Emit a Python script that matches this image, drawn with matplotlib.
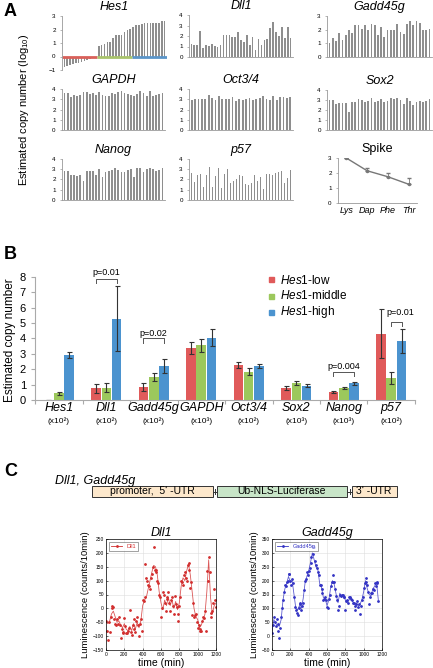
import matplotlib.pyplot as plt
from matplotlib.patches import Rectangle
import numpy as np

plt.rcParams['font.family'] = ['Liberation Sans', 'DejaVu Sans']
plt.rcParams['mathtext.fontset'] = 'custom'
plt.rcParams['mathtext.rm'] = 'Liberation Sans'
plt.rcParams['mathtext.it'] = 'Liberation Sans:italic'

# ---------------- data ----------------
# panel A: log10 copy number per cell
hes1 = [-0.8, -0.7, -0.62, -0.55, -0.5, -0.45, -0.4, -0.35, -0.28, -0.18, -0.1, -0.05,
        0.75, 0.85, 0.95, 1.1, 1.1, 1.35, 1.6, 1.6, 1.6, 1.85, 1.95, 2.05,
        2.2, 2.3, 2.35, 2.4, 2.45, 2.45, 2.45, 2.45, 2.5, 2.5, 2.6, 2.65]
dll1 = [1.25, 1.1, 1.1, 2.45, 0.9, 1.1, 1.05, 1.2, 1.05, 1.0, 1.1, 2.1, 2.1, 2.1, 1.9,
        1.95, 2.4, 1.6, 1.45, 2.1, 1.1, 1.9, 0.65, 1.7, 1.1, 1.6, 1.7, 2.75, 3.3, 2.4,
        2.0, 2.9, 1.8, 2.85, 1.8]
gadd45g = [1.02, 1.4, 1.17, 1.78, 1.27, 1.58, 2.0, 1.78, 2.37, 2.37, 2.07, 2.37, 2.0,
           2.44, 2.37, 1.58, 2.2, 1.5, 2.0, 2.0, 2.0, 2.4, 1.83, 1.7, 2.4, 2.63, 2.37,
           2.63, 2.5, 1.95, 2.0, 2.07]
gapdh = [3.6, 3.6, 3.2, 3.45, 3.3, 3.4, 3.75, 3.7, 3.5, 3.6, 3.45, 3.7, 3.4, 3.3, 3.35,
         3.6, 3.5, 3.75, 3.8, 3.6, 3.5, 3.45, 3.3, 3.5, 3.85, 3.6, 3.3, 3.8, 3.3, 3.45,
         3.55, 3.6]
oct34 = [2.95, 3.0, 3.0, 3.0, 3.05, 3.4, 3.1, 2.95, 3.35, 3.05, 3.0, 3.0, 3.2, 2.8, 3.0,
         2.95, 3.0, 3.15, 2.95, 3.0, 3.1, 3.35, 3.0, 2.9, 3.3, 2.95, 3.25, 3.2, 3.1, 3.2]
sox2 = [3.05, 3.05, 2.6, 2.7, 2.75, 2.75, 1.8, 2.85, 2.8, 3.1, 3.0, 2.85, 2.95, 3.25,
        2.8, 2.9, 3.1, 2.85, 2.95, 3.2, 3.1, 3.2, 3.05, 2.6, 3.2, 2.9, 2.55, 2.85, 2.9,
        2.85, 2.9, 3.1]
nanog = [2.85, 2.85, 2.43, 2.43, 2.3, 2.43, 1.9, 2.8, 2.8, 2.8, 2.46, 3.02, 2.2, 2.75,
         2.8, 2.95, 3.08, 2.95, 2.75, 2.75, 2.9, 3.02, 2.2, 3.1, 3.1, 2.75, 3.0, 3.1,
         3.0, 2.85, 2.95, 3.08]
p57 = [2.65, 1.75, 2.4, 2.5, 1.3, 2.4, 3.2, 1.25, 2.3, 3.1, 1.15, 2.55, 3.0, 1.7, 1.9,
       2.0, 2.45, 2.3, 1.57, 1.47, 1.64, 2.45, 1.9, 2.23, 1.08, 2.55, 2.55, 2.45, 2.6,
       2.7, 2.8, 1.7, 2.13, 2.9]
spike_labels = ['Lys', 'Dap', 'Phe', 'Thr']
spike_vals = [3.0, 2.15, 1.75, 1.25]
spike_err = [0.0, 0.2, 0.25, 0.4]

# panel B: copy number per Hes1 group
genes = ['Hes1', 'Dll1', 'Gadd45g', 'GAPDH', 'Oct3/4', 'Sox2', 'Nanog', 'p57']
scales = ['(x10²)', '(x10²)', '(x10²)', '(x10³)', '(x10²)', '(x10³)', '(x10³)', '(x10²)']
low = [0.02, 0.75, 0.85, 3.4, 2.25, 0.8, 0.5, 4.3]
low_err = [0.0, 0.3, 0.25, 0.4, 0.2, 0.12, 0.06, 1.6]
mid = [0.45, 0.8, 1.5, 3.55, 1.85, 1.12, 0.78, 1.45]
mid_err = [0.1, 0.3, 0.25, 0.4, 0.2, 0.12, 0.08, 0.38]
high = [2.9, 5.3, 2.2, 4.05, 2.2, 0.93, 1.1, 3.83]
high_err = [0.2, 2.1, 0.45, 0.55, 0.15, 0.1, 0.1, 0.8]

# panel C: luminescence time courses (smoothed line + raw points)
t_line = list(range(0, 1201, 20))
t_mid = list(range(10, 1191, 20))
dll1_line = [-50, -55, -45, -20, -10, -30, -50, -45, -60, -70, -55, -75, -80, -65, -80,
             -55, -75, -50, -70, -45, 10, 30, 40, 70, 100, 130, 155, 150, 120, 60, 20,
             -5, 30, 10, 40, 10, 30, 0, 25, -5, 20, 80, 110, 100, 135, 160, 120, 60, 0,
             -30, -40, -70, -60, -40, -20, 60, 175, 40, -20, 10, 20]
dll1_dots = [-45, -115, -85, 0, 5, -55, -40, -30, -105, -85, -35, -90, -80, -5, -95,
             -40, -85, -30, -100, -40, 30, 160, 110, 85, 70, 125, 220, 140, 100, 50, -30,
             60, 20, 40, 60, -10, 40, -20, 15, -45, 10, 100, 85, 130, 100, 165, 75, -25,
             -30, -20, -70, -80, -80, -30, -10, 135, 185, -15, -10, 70, 5]
dll1_dots2 = [-80, -50, -30, 10, -40, -60, -55, -60, -75, -90, -65, -90, -70, -85, -60,
              -75, -45, -60, -55, -80, 25, 40, 100, 80, 110, 150, 140, 130, 90, 40,
              0, 50, -10, 35, 20, 30, 10, 45, 5, -20, 40, 95, 120, 110, 155, 140, 95,
              20, -25, -50, -60, -75, -45, -35, -80, 100, 130, -30, 20, 30]
t_line_g = list(range(0, 1161, 20))
t_mid_g = list(range(10, 1151, 20))
gadd_line = [15, 60, 45, 40, 35, 60, 130, 170, 190, 215, 195, 200, 150, 100, 95, 110, 100,
             135, 190, 215, 235, 265, 300, 275, 250, 240, 190, 175, 140, 135, 110, 130,
             175, 200, 185, 150, 120, 155, 140, 145, 130, 120, 130, 140, 125, 115, 120,
             110, 115, 130, 160, 200, 170, 150, 145, 170, 180, 195, 130]
gadd_dots = [10, 70, 35, 20, -5, 70, 130, 185, 195, 225, 200, 205, 140, 95, 75, 120, 95,
             120, 200, 230, 235, 265, 325, 320, 255, 230, 185, 170, 130, 140, 105, 135,
             180, 220, 195, 145, 95, 150, 150, 140, 95, 130, 140, 135, 120, 95, 115, 105,
             80, 130, 175, 210, 185, 115, 155, 170, 190, 190, 125]
gadd_dots2 = [40, 50, 60, 45, 30, 100, 160, 180, 200, 225, 185, 190, 105, 85, 100, 115,
              110, 165, 205, 220, 245, 285, 295, 270, 245, 220, 185, 155, 135, 130, 100,
              150, 195, 195, 170, 130, 110, 145, 150, 140, 125, 120, 140, 130, 120, 110,
              125, 115, 110, 140, 190, 195, 160, 140, 155, 165, 180, 195]

# ---------------- layout helpers ----------------
W, H = 433, 668
fig = plt.figure(figsize=(W / 100, H / 100), dpi=100)


def box(x0, y0, x1, y1):
    return [x0 / W, 1 - y1 / H, (x1 - x0) / W, (y1 - y0) / H]


def ftext(x, y, s, **kw):
    kw.setdefault('va', 'center')
    fig.text(x / W, 1 - y / H, s, **kw)


def small_bars(rect, vals, ymin, ymax, title):
    ax = fig.add_axes(box(*rect))
    x = np.arange(len(vals))
    ax.bar(x, vals, width=0.55, color='#8e8e8e')
    ax.set_xlim(-0.8, len(vals) - 0.2)
    ax.set_ylim(ymin, ymax)
    ax.set_yticks(range(ymin, ymax + 1))
    ax.set_xticks([])
    for s in ['top', 'right']:
        ax.spines[s].set_visible(False)
    ax.spines['left'].set_color('#999999')
    ax.spines['left'].set_linewidth(0.6)
    ax.spines['bottom'].set_position(('data', 0))
    ax.spines['bottom'].set_color('#999999')
    ax.spines['bottom'].set_linewidth(0.6)
    ax.tick_params(axis='y', labelsize=4.5, length=1.5, width=0.5, color='#999999', pad=3)
    ax.set_title(title, fontsize=9, style='italic', pad=4)
    return ax


# ---------------- panel A ----------------
ftext(4, 12, 'A', fontsize=13, fontweight='bold')
ftext(24, 110, 'Estimated copy number (log$_{10}$)', fontsize=8, rotation=90, ha='center')

ax = small_bars((62, 16, 167, 70), hes1, -1, 3, 'Hes1')
ax.spines['bottom'].set_visible(False)
ax.hlines(0, -0.8, 11.5, color='#d9605a', lw=2)
ax.hlines(0, 11.5, 23.5, color='#a9c46c', lw=2)
ax.hlines(0, 23.5, len(hes1) - 0.2, color='#5b95c9', lw=2)
small_bars((189, 15, 293, 57), dll1, 0, 4, 'Dll1')
small_bars((327, 16, 432, 57), gadd45g, 0, 3, 'Gadd45g')
small_bars((62, 89, 165, 130), gapdh, 0, 4, 'GAPDH')
small_bars((189, 89, 293, 130), oct34, 0, 4, 'Oct3/4')
small_bars((327, 90, 432, 130), sox2, 0, 4, 'Sox2')
small_bars((62, 159, 165, 200), nanog, 0, 4, 'Nanog')
small_bars((189, 159, 293, 200), p57, 0, 4, 'p57')

ax = fig.add_axes(box(338, 158, 417, 203))
ax.errorbar(range(4), spike_vals, yerr=[[0] * 4, spike_err], color='#777777', lw=1,
            marker='o', ms=1.5, capsize=1.5, elinewidth=0.6)
ax.set_xlim(-0.4, 3.4)
ax.set_ylim(0, 3)
ax.set_yticks(range(4))
ax.set_xticks(range(4))
ax.set_xticklabels(spike_labels, style='italic', fontsize=6.5)
for s in ['top', 'right']:
    ax.spines[s].set_visible(False)
for s in ['left', 'bottom']:
    ax.spines[s].set_color('#999999')
    ax.spines[s].set_linewidth(0.6)
ax.tick_params(axis='y', labelsize=4.5, length=1.5, width=0.5, color='#999999', pad=3)
ax.tick_params(axis='x', length=0, pad=2)
ax.set_title('Spike', fontsize=9, pad=4)

# ---------------- panel B ----------------
ftext(4, 255, 'B', fontsize=13, fontweight='bold')
ftext(10, 340, 'Estimated copy number', fontsize=8.5, rotation=90, ha='center')

ax = fig.add_axes(box(35, 277, 415, 400))
x = np.arange(len(genes))
cols = ['#e05a5a', '#9cc85c', '#4b93cf']
ekw = dict(elinewidth=0.8, capsize=1.8, capthick=0.8, ecolor='#333333')
ax.bar(x - 0.22, low, 0.2, yerr=low_err, color=cols[0], error_kw=ekw)
ax.bar(x, mid, 0.2, yerr=mid_err, color=cols[1], error_kw=ekw)
ax.bar(x + 0.22, high, 0.2, yerr=high_err, color=cols[2], error_kw=ekw)
ax.set_xlim(-0.5, 7.5)
ax.set_ylim(0, 8)
ax.set_yticks(range(9))
ax.set_xticks(np.arange(-0.5, 8, 1))
ax.set_xticklabels([])
for s in ['top', 'right']:
    ax.spines[s].set_visible(False)
for s in ['left', 'bottom']:
    ax.spines[s].set_color('#aaaaaa')
    ax.spines[s].set_linewidth(0.8)
ax.tick_params(axis='y', labelsize=8, length=3, width=0.8, color='#aaaaaa')
ax.tick_params(axis='x', length=3, width=0.8, color='#aaaaaa')
tr = ax.get_xaxis_transform()
for i in range(len(genes)):
    ax.text(i, -0.065, genes[i], transform=tr, ha='center', va='center',
            fontsize=9, style='italic')
    ax.text(i, -0.17, scales[i], transform=tr, ha='center', va='center', fontsize=6)


def bracket(x0, x1, ytop, ylegs, label, ylab, xlab=None):
    ax.plot([x0, x0, x1, x1], [ylegs, ytop, ytop, ylegs], color='#555555', lw=0.7)
    ax.text((x0 + x1) / 2 if xlab is None else xlab, ylab, label, ha='center',
            va='center', fontsize=6.5)


bracket(1 - 0.22, 1 + 0.22, 7.87, 7.6, 'p=0.01', 8.3)
bracket(2 - 0.22, 2 + 0.22, 4.03, 3.7, 'p=0.02', 4.35)
bracket(6 - 0.22, 6 + 0.22, 1.84, 1.56, 'p=0.004', 2.2)
bracket(7, 7 + 0.22, 5.1, 4.8, 'p=0.01', 5.7, 7.2)

leg_names = ['$\\it{Hes1}$-low', '$\\it{Hes1}$-middle', '$\\it{Hes1}$-high']
for i in range(3):
    fig.patches.append(Rectangle((269 / W, 1 - (280 + 16 * i + 2.5) / H), 5 / W, 5 / H,
                                 color=cols[i], transform=fig.transFigure))
    ftext(280, 280 + 16 * i, leg_names[i], fontsize=8.5)

# ---------------- panel C ----------------
ftext(4, 472, 'C', fontsize=13, fontweight='bold')
ftext(55, 481, 'Dll1, Gadd45g', fontsize=9, style='italic')

dg = fig.add_axes([0, 0, 1, 1])
dg.set_xlim(0, W)
dg.set_ylim(H, 0)
dg.axis('off')
dg.patch.set_alpha(0)
dg.add_patch(Rectangle((92, 486), 121, 11, facecolor='#fde8cc', edgecolor='#333333', lw=0.7))
dg.add_patch(Rectangle((217, 486), 130, 11, facecolor='#c8e5c8', edgecolor='#333333', lw=0.7))
dg.add_patch(Rectangle((352, 486), 45, 11, facecolor='#fde8cc', edgecolor='#333333', lw=0.7))
dg.plot([213, 217], [491.5, 491.5], color='#333333', lw=0.7)
dg.plot([215, 215], [489, 494], color='#333333', lw=0.7)
dg.plot([347, 352], [491.5, 491.5], color='#333333', lw=0.7)
dg.plot([349.5, 349.5], [489, 494], color='#333333', lw=0.7)
dg.text(152, 491.5, "promoter,  5' -UTR", ha='center', va='center', fontsize=7.5)
dg.text(282, 491.5, 'Ub-NLS-Luciferase', ha='center', va='center', fontsize=7.5)
dg.text(374, 491.5, "3' -UTR", ha='center', va='center', fontsize=7.5)


def lum_plot(rect, t, line, dots, t2, dots2, color, name, ymin, ymax):
    ax = fig.add_axes(box(*rect))
    ax.plot(t, line, color=color, lw=0.6, alpha=0.8)
    ax.plot(t, dots, ls='none', marker='.', ms=2, color=color)
    ax.plot(t2, dots2, ls='none', marker='.', ms=2, color=color)
    ax.set_xlim(0, 1200)
    ax.set_ylim(ymin, ymax)
    ax.set_xticks(range(0, 1201, 200))
    ax.set_yticks(range(ymin, ymax + 1, 50))
    ax.grid(color='#dddddd', lw=0.4)
    ax.set_axisbelow(True)
    ax.tick_params(labelsize=3.5, length=1.5, width=0.4, direction='in', pad=1.5)
    for s in ax.spines.values():
        s.set_linewidth(0.5)
    ax.set_title(name, fontsize=9, style='italic', pad=2)
    ax.set_xlabel('time (min)', fontsize=7.5, labelpad=1)
    ax.set_ylabel('Luminescence (counts/10min)', fontsize=6.8, labelpad=2)
    h, = ax.plot([], [], color=color, lw=0.6, marker='.', ms=2)
    lg = ax.legend([h], [name], loc='upper left', fontsize=4, frameon=True,
                   fancybox=False, edgecolor='#333333', handlelength=2,
                   borderpad=0.4, labelcolor=color)
    lg.get_frame().set_linewidth(0.4)
    return ax


lum_plot((106, 539, 216, 650), t_line, dll1_line, dll1_dots, t_mid, dll1_dots2,
         '#d22f2f', 'Dll1', -150, 250)
lum_plot((272, 539, 382, 650), t_line_g, gadd_line, gadd_dots, t_mid_g, gadd_dots2,
         '#3434c4', 'Gadd45g', -50, 350)

fig.savefig('out.png', dpi=100)
